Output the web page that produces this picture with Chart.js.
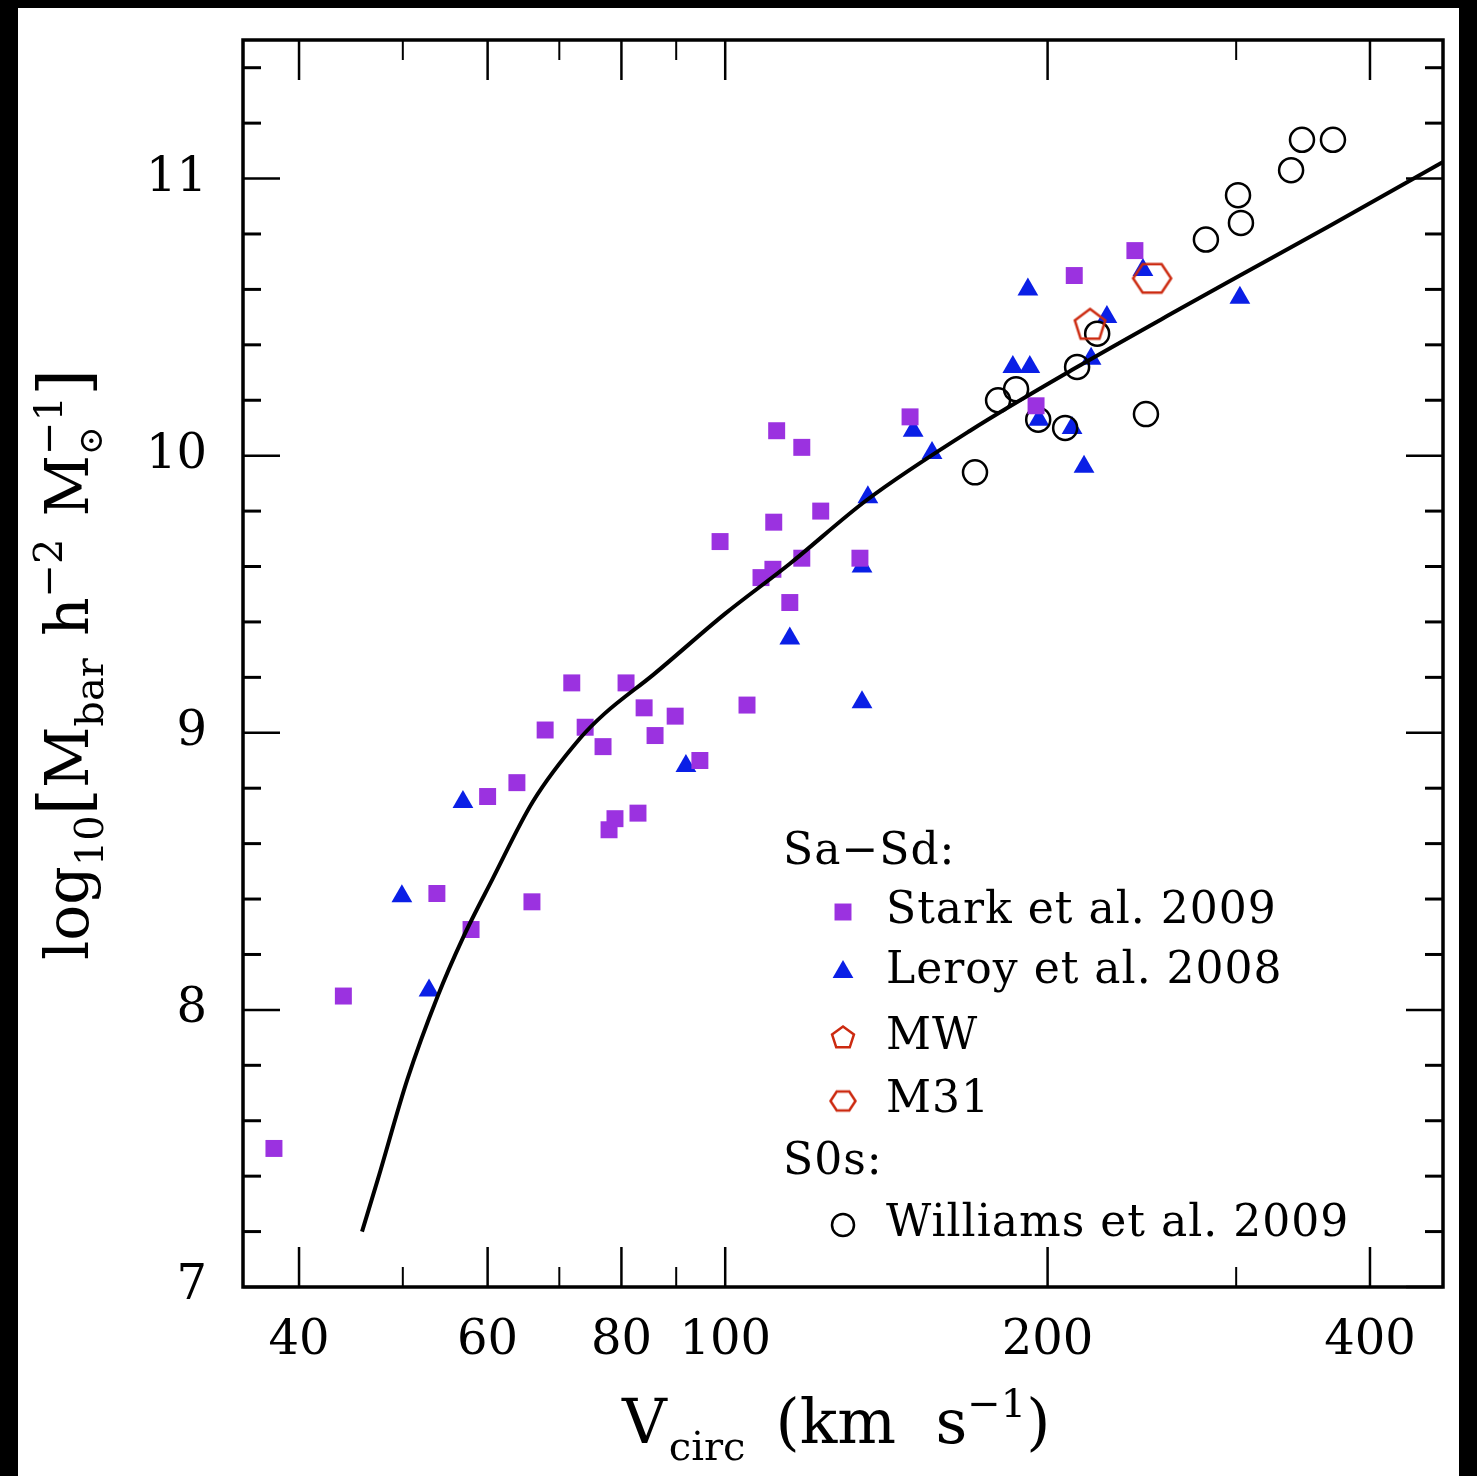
<!DOCTYPE html>
<html>
<head>
<meta charset="utf-8">
<script src="https://cdn.jsdelivr.net/npm/chart.js@4.4.1/dist/chart.umd.min.js"></script>
<style>
  html, body { margin: 0; padding: 0; background: #000; }
  #panel { position: absolute; left: 18px; top: 8px; width: 1441px; height: 1468px; background: #fff; }
  #c { position: absolute; left: 0; top: 0; }
</style>
</head>
<body>
<div id="panel"></div>
<canvas id="c" width="1477" height="1476"></canvas>
<script>
// Stark et al. 2009 (purple squares)
var starkV = [37.9, 44.0, 53.8, 57.9, 60.0, 63.9, 66.0, 67.9, 71.9, 74.0, 76.9, 77.9, 78.9, 80.8, 82.9, 84.0, 86.0, 89.8, 94.7, 98.9,
              104.8, 108.0, 110.8, 111.0, 111.7, 114.9, 117.9, 117.9, 122.8, 133.6, 148.8, 195.1, 211.8, 241.3];
var starkM = [7.50, 8.05, 8.42, 8.29, 8.77, 8.82, 8.39, 9.01, 9.18, 9.02, 8.95, 8.65, 8.69, 9.18, 8.71, 9.09, 8.99, 9.06, 8.90, 9.69,
              9.10, 9.56, 9.59, 9.76, 10.09, 9.47, 10.03, 9.63, 9.80, 9.63, 10.14, 10.18, 10.65, 10.74];

// Leroy et al. 2008 (blue triangles)
var leroyV = [49.9, 52.9, 56.9, 91.9, 114.9, 134.2, 134.2, 135.9, 149.8, 156.0, 185.6, 191.7, 192.5, 196.3, 210.8, 216.3, 219.6, 227.2, 245.5, 302.4];
var leroyM = [8.41, 8.07, 8.75, 8.88, 9.34, 9.11, 9.60, 9.85, 10.09, 10.01, 10.32, 10.60, 10.32, 10.13, 10.10, 9.96, 10.35, 10.50, 10.67, 10.57];

// Williams et al. 2009 (open circles)
var willV = [171.1, 179.8, 186.9, 196.0, 207.7, 213.1, 222.5, 247.1, 281.1, 301.2, 303.1, 337.6, 345.6, 369.4];
var willM = [9.94, 10.20, 10.24, 10.13, 10.10, 10.32, 10.44, 10.15, 10.78, 10.94, 10.84, 11.03, 11.14, 11.14];

// MW and M31
var mwV = [219.1];
var mwM = [10.47];
var m31V = [250.4];
var m31M = [10.64];

// model curve
var curveV = [45.8, 47.4, 50.5, 53.9, 56.9, 60.6, 66.1, 73.2, 77.2, 85.7, 100.0, 114.9, 135.6, 169.3, 213.1, 265.9, 302.4, 367.0, 468];
var curveM = [7.20, 7.39, 7.75, 8.05, 8.26, 8.47, 8.75, 8.98, 9.07, 9.21, 9.43, 9.61, 9.84, 10.09, 10.32, 10.53, 10.65, 10.83, 11.06];

// axis ticks
var xMajor = [40, 60, 80, 100, 200, 400];
var xMinor = [50, 70, 90, 300];
var yMajor = [7, 8, 9, 10, 11];
var yMinor = [7.2, 7.4, 7.6, 7.8, 8.2, 8.4, 8.6, 8.8, 9.2, 9.4, 9.6, 9.8, 10.2, 10.4, 10.6, 10.8, 11.2, 11.4];

var PURPLE = '#9b32e0';
var BLUE = '#0a1fe6';
var RED = '#cc2a10';

function pts(xs, ys) {
    return xs.map(function (v, i) { return { x: v, y: ys[i] }; });
}

function polyCanvas(n, w, h, rot, lw) {
    var c = document.createElement('canvas');
    c.width = w + lw * 2 + 2;
    c.height = h + lw * 2 + 2;
    var g = c.getContext('2d');
    g.strokeStyle = RED;
    g.lineWidth = lw;
    g.lineJoin = 'miter';
    g.beginPath();
    for (var i = 0; i < n; i++) {
        var a = rot + i * 2 * Math.PI / n;
        var px = c.width / 2 + Math.cos(a) * w / 2;
        var py = c.height / 2 + Math.sin(a) * h / 2;
        if (i == 0) g.moveTo(px, py); else g.lineTo(px, py);
    }
    g.closePath();
    g.stroke();
    return c;
}

var pentaBig = polyCanvas(5, 32, 33, -Math.PI / 2, 2.5);
var hexaBig = polyCanvas(6, 38, 33, 0, 2.5);
var pentaSmall = polyCanvas(5, 23, 23, -Math.PI / 2, 2.5);
var hexaSmall = polyCanvas(6, 25, 22, 0, 2.5);

var frameTicks = {
    id: 'frameTicks',
    afterDatasetsDraw: function (chart) {
        var ctx = chart.ctx, a = chart.chartArea, xs = chart.scales.x, ys = chart.scales.y;
        ctx.save();
        ctx.strokeStyle = '#000';
        ctx.lineCap = 'butt';
        function seg(x1, y1, x2, y2, w) {
            ctx.lineWidth = w;
            ctx.beginPath();
            ctx.moveTo(x1, y1);
            ctx.lineTo(x2, y2);
            ctx.stroke();
        }
        xMajor.forEach(function (v) {
            var p = xs.getPixelForValue(v);
            seg(p, a.bottom, p, a.bottom - 40, 2.5);
            seg(p, a.top, p, a.top + 40, 2.5);
        });
        xMinor.forEach(function (v) {
            var p = xs.getPixelForValue(v);
            seg(p, a.bottom, p, a.bottom - 20, 2);
            seg(p, a.top, p, a.top + 20, 2);
        });
        yMajor.forEach(function (v) {
            var p = ys.getPixelForValue(v);
            seg(a.left, p, a.left + 37, p, 2.5);
            seg(a.right, p, a.right - 37, p, 2.5);
        });
        yMinor.forEach(function (v) {
            var p = ys.getPixelForValue(v);
            seg(a.left, p, a.left + 18, p, 3);
            seg(a.right, p, a.right - 18, p, 3);
        });
        ctx.lineWidth = 3.5;
        ctx.strokeRect(a.left, a.top, a.right - a.left, a.bottom - a.top);
        ctx.restore();
    }
};

function drawRich(ctx, x, y, parts) {
    var cx = x;
    parts.forEach(function (p) {
        ctx.font = p.size + 'px "DejaVu Serif"';
        ctx.fillText(p.t, cx, y + (p.dy || 0));
        if (!p.stay) cx += ctx.measureText(p.t).width + (p.gap || 0);
    });
}

var titles = {
    id: 'titles',
    afterDraw: function (chart) {
        var ctx = chart.ctx;
        ctx.save();
        ctx.fillStyle = '#000';
        ctx.textBaseline = 'alphabetic';
        ctx.textAlign = 'left';
        // x title
        drawRich(ctx, 622, 1443, [
            { t: 'V', size: 62, gap: 2 },
            { t: 'circ', size: 40, dy: 17, gap: 30 },
            { t: '(km  s', size: 62 },
            { t: '\u22121', size: 40, dy: -26 },
            { t: ')', size: 62 }
        ]);
        // y title, rotated
        ctx.translate(88, 960);
        ctx.rotate(-Math.PI / 2);
        drawRich(ctx, 0, 0, [
            { t: 'log', size: 60 },
            { t: '10', size: 40, dy: 15 },
            { t: '[', size: 70 },
            { t: 'M', size: 60 },
            { t: 'bar', size: 40, dy: 15, gap: 22 },
            { t: 'h', size: 60 },
            { t: '\u22122', size: 40, dy: -26, gap: 22 },
            { t: 'M', size: 60 },
            { t: '\u2299', size: 34, dy: 14, stay: true },
            { t: '\u22121', size: 40, dy: -26 },
            { t: ']', size: 70 }
        ]);
        ctx.restore();

        // legend
        ctx.save();
        ctx.fillStyle = '#000';
        ctx.textBaseline = 'middle';
        ctx.font = '44px "DejaVu Serif"';
        ctx.letterSpacing = '1px';
        ctx.fillText('Sa\u2212Sd:', 783, 853);
        ctx.fillText('S0s:', 783, 1163);
        var rows = [
            { label: 'Stark et al. 2009', y: 912, style: 'rect', r: 12, fill: PURPLE, border: PURPLE, bw: 0 },
            { label: 'Leroy et al. 2008', y: 972, style: 'triangle', r: 12, fill: BLUE, border: BLUE, bw: 0 },
            { label: 'MW', y: 1038, style: pentaSmall, r: 11 },
            { label: 'M31', y: 1101, style: hexaSmall, r: 11 },
            { label: 'Williams et al. 2009', y: 1225, style: 'circle', r: 11, fill: 'rgba(0,0,0,0)', border: '#000', bw: 2.5 }
        ];
        rows.forEach(function (row) {
            ctx.fillStyle = row.fill || '#000';
            ctx.strokeStyle = row.border || '#000';
            ctx.lineWidth = row.bw || 0;
            Chart.helpers.drawPoint(ctx, { pointStyle: row.style, radius: row.r, borderWidth: row.bw || 0, rotation: 0 }, 843, row.y);
            ctx.fillStyle = '#000';
            ctx.fillText(row.label, 886, row.y);
        });
        ctx.restore();
    }
};

var chart = new Chart(document.getElementById('c').getContext('2d'), {
    type: 'scatter',
    data: {
        datasets: [
            {
                label: 'model',
                data: pts(curveV, curveM),
                showLine: true,
                borderColor: '#000',
                borderWidth: 4,
                pointRadius: 0,
                cubicInterpolationMode: 'monotone'
            },
            {
                label: 'Stark et al. 2009',
                data: pts(starkV, starkM),
                pointStyle: 'rect',
                pointRadius: 12,
                backgroundColor: PURPLE,
                borderColor: PURPLE,
                borderWidth: 0
            },
            {
                label: 'MW',
                data: pts(mwV, mwM),
                pointStyle: pentaBig,
                pointRadius: 16
            },
            {
                label: 'M31',
                data: pts(m31V, m31M),
                pointStyle: hexaBig,
                pointRadius: 18
            },
            {
                label: 'Williams et al. 2009',
                data: pts(willV, willM),
                pointStyle: 'circle',
                pointRadius: 12,
                backgroundColor: 'rgba(0,0,0,0)',
                borderColor: '#000',
                borderWidth: 2.5
            },
            {
                label: 'Leroy et al. 2008',
                data: pts(leroyV, leroyM),
                pointStyle: 'triangle',
                pointRadius: 12,
                backgroundColor: BLUE,
                borderColor: BLUE,
                borderWidth: 0
            }
        ]
    },
    options: {
        responsive: false,
        animation: false,
        layout: { padding: { top: 40, right: 34, left: 0, bottom: 0 } },
        plugins: {
            legend: { display: false },
            tooltip: { enabled: false }
        },
        scales: {
            x: {
                type: 'logarithmic',
                min: 35.46,
                max: 468,
                grid: { display: false, drawTicks: false },
                border: { display: false },
                afterBuildTicks: function (scale) {
                    scale.ticks = xMajor.concat(xMinor).sort(function (a, b) { return a - b; }).map(function (v) { return { value: v }; });
                },
                afterFit: function (scale) {
                    scale.height = 189;
                    scale.paddingLeft = 0;
                    scale.paddingRight = 0;
                },
                ticks: {
                    autoSkip: false,
                    maxRotation: 0,
                    padding: 26,
                    color: '#000',
                    font: { family: 'DejaVu Serif', size: 48 },
                    callback: function (v) { return xMajor.indexOf(v) >= 0 ? String(v) : ''; }
                }
            },
            y: {
                min: 7,
                max: 11.5,
                grid: { display: false, drawTicks: false },
                border: { display: false },
                afterBuildTicks: function (scale) {
                    scale.ticks = yMajor.concat(yMinor).sort(function (a, b) { return a - b; }).map(function (v) { return { value: v }; });
                },
                afterFit: function (scale) {
                    scale.width = 243;
                    scale.paddingTop = 0;
                    scale.paddingBottom = 0;
                },
                ticks: {
                    autoSkip: false,
                    padding: 36,
                    color: '#000',
                    font: { family: 'DejaVu Serif', size: 48 },
                    callback: function (v) { return yMajor.indexOf(v) >= 0 ? String(v) : ''; }
                }
            }
        }
    },
    plugins: [frameTicks, titles]
});
</script>
</body>
</html>
